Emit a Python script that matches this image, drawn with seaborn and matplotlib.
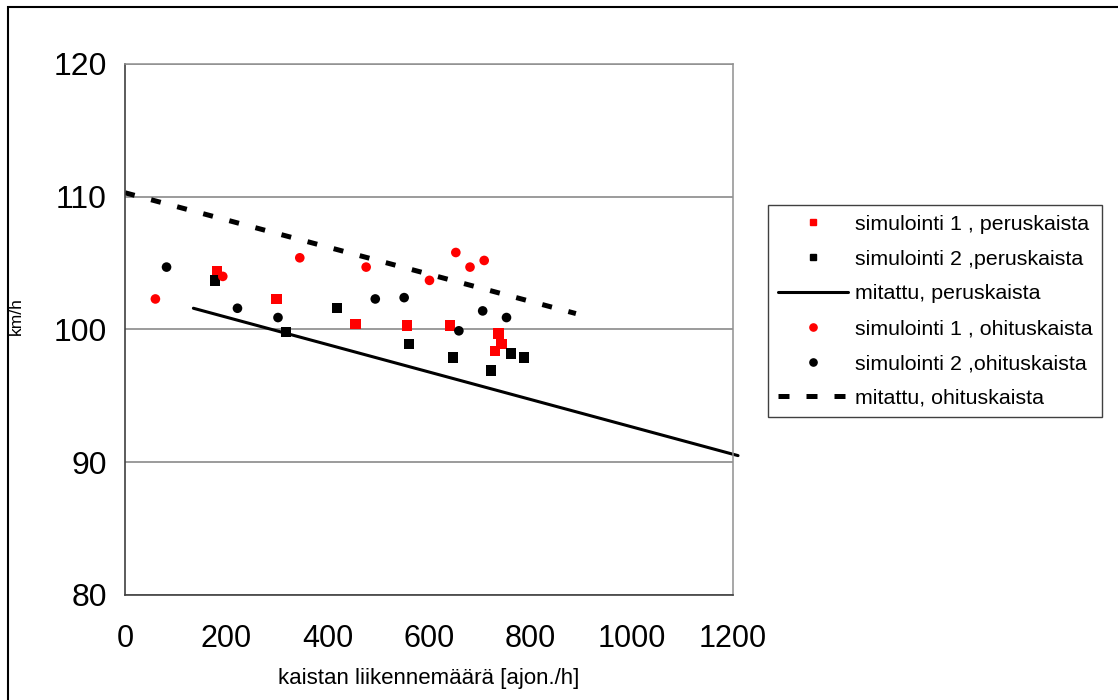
import matplotlib
matplotlib.use("Agg")
import matplotlib.pyplot as plt
from matplotlib.patches import Rectangle
from matplotlib.lines import Line2D
import seaborn as sns

# Simulated speeds, basic lane (peruskaista)
sim1_perus_x = [182, 299, 455, 557, 641, 737, 743, 731]
sim1_perus_y = [104.4, 102.3, 100.4, 100.3, 100.3, 99.7, 98.9, 98.4]
sim2_perus_x = [178, 318, 418, 560, 647, 722, 762, 787]
sim2_perus_y = [103.7, 99.8, 101.6, 98.9, 97.9, 96.9, 98.2, 97.9]

# Simulated speeds, passing lane (ohituskaista)
sim1_ohi_x = [60, 193, 345, 476, 601, 653, 681, 709]
sim1_ohi_y = [102.3, 104.0, 105.4, 104.7, 103.7, 105.8, 104.7, 105.2]
sim2_ohi_x = [82, 222, 302, 494, 551, 659, 706, 753]
sim2_ohi_y = [104.7, 101.6, 100.9, 102.3, 102.4, 99.9, 101.4, 100.9]

# Measured trend lines
mit_perus_x = [135, 1210]
mit_perus_y = [101.6, 90.5]
mit_ohi_x = [0, 890]
mit_ohi_y = [110.3, 101.2]

labels = ["simulointi 1 , peruskaista", "simulointi 2 ,peruskaista",
          "mitattu, peruskaista", "simulointi 1 , ohituskaista",
          "simulointi 2 ,ohituskaista", "mitattu, ohituskaista"]
x_ticks = [0, 200, 400, 600, 800, 1000, 1200]
y_ticks = [80, 90, 100, 110, 120]

sns.set_style("white")
plt.rcParams["font.family"] = ["Liberation Sans", "DejaVu Sans"]

fig = plt.figure(figsize=(11.18, 7.0), dpi=100)
ax = fig.add_axes([0.1118, 0.15, 0.5438, 0.7586])

sns.scatterplot(x=sim1_perus_x, y=sim1_perus_y, ax=ax, marker="s", s=55,
                color="#ff0000", edgecolor="none", zorder=3)
sns.scatterplot(x=sim2_perus_x, y=sim2_perus_y, ax=ax, marker="s", s=55,
                color="black", edgecolor="none", zorder=3)
sns.lineplot(x=mit_perus_x, y=mit_perus_y, ax=ax, color="black", lw=2.2,
             zorder=2, clip_on=False)
sns.scatterplot(x=sim1_ohi_x, y=sim1_ohi_y, ax=ax, marker="o", s=48,
                color="#ff0000", edgecolor="none", zorder=3)
sns.scatterplot(x=sim2_ohi_x, y=sim2_ohi_y, ax=ax, marker="o", s=48,
                color="black", edgecolor="none", zorder=3)
sns.lineplot(x=mit_ohi_x, y=mit_ohi_y, ax=ax, color="black", lw=3.6,
             zorder=2, dashes=(2.0, 3.4))

ax.set_xlim(0, 1200)
ax.set_ylim(80, 120)
ax.set_xticks(x_ticks)
ax.set_yticks(y_ticks)
ax.tick_params(axis="both", which="major", labelsize=23, direction="out",
               length=7, width=1, color="#404040", labelcolor="black", pad=14)
ax.tick_params(axis="x", labelsize=22)
ax.tick_params(axis="y", pad=6)
ax.yaxis.grid(True, color="#808080", lw=1.1)
ax.set_axisbelow(True)
for side in ["top", "right"]:
    ax.spines[side].set_color("#909090")
    ax.spines[side].set_linewidth(1.1)
for side in ["left", "bottom"]:
    ax.spines[side].set_color("#404040")
    ax.spines[side].set_linewidth(1.2)

ax.set_xlabel("kaistan liikennemäärä [ajon./h]", fontsize=16, labelpad=10,
              color="black")
ax.set_ylabel("km/h", fontsize=12.5, color="black")
ax.yaxis.set_label_coords(-0.166, 0.525)

handles = [
    Line2D([], [], ls="none", marker="s", ms=4.5, color="#ff0000"),
    Line2D([], [], ls="none", marker="s", ms=4.5, color="black"),
    Line2D([], [], ls="-", lw=2.2, color="black"),
    Line2D([], [], ls="none", marker="o", ms=5.2, color="#ff0000"),
    Line2D([], [], ls="none", marker="o", ms=5.2, color="black"),
    Line2D([], [], ls="--", lw=3.6, color="black", dashes=(2.2, 3.4)),
]
leg = fig.legend(handles, labels, loc="upper left",
                 bbox_to_anchor=(0.687, 0.707), fontsize=15.4,
                 frameon=True, fancybox=False, edgecolor="#404040",
                 framealpha=1, handlelength=3.27, handletextpad=0.33,
                 labelspacing=0.74, borderpad=0.45, borderaxespad=0)
leg.get_frame().set_linewidth(1.0)
for t in leg.get_texts():
    t.set_color("black")

# Outer chart border (runs off the right and bottom edges)
fig.patches.append(Rectangle((0.007, -0.1), 1.1, 1.09, transform=fig.transFigure,
                             fill=False, edgecolor="black", lw=1.5))

fig.savefig("out.png", dpi=100)
